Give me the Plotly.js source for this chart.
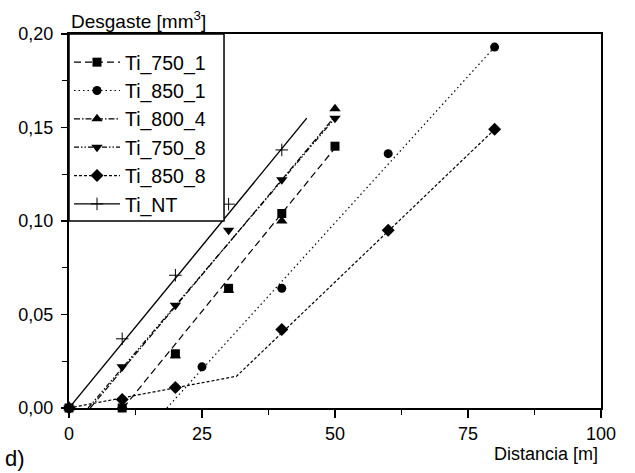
<!DOCTYPE html>
<html>
<head>
<meta charset="utf-8">
<script src="https://cdn.plot.ly/plotly-3.0.1.min.js"></script>
<style>html,body{margin:0;padding:0;background:#fff;}#chart{width:635px;height:473px;}</style>
</head>
<body>
<div id="chart"></div>
<script>
// ---- data ----
const seriesNames = ["Ti_750_1", "Ti_850_1", "Ti_800_4", "Ti_750_8", "Ti_850_8", "Ti_NT"];

const x_750_1 = [0, 10, 20, 30, 40, 50];
const y_750_1 = [0, 0.000, 0.029, 0.064, 0.104, 0.140];

const x_850_1 = [0, 25, 40, 60, 80];
const y_850_1 = [0, 0.022, 0.064, 0.136, 0.193];

const x_800_4 = [0, 10, 20, 30, 40, 50];
const y_800_4 = [0, 0.001, 0.028, 0.063, 0.100, 0.160];

const x_750_8 = [0, 10, 20, 30, 40, 50];
const y_750_8 = [0, 0.022, 0.055, 0.095, 0.122, 0.155];

const x_850_8 = [0, 10, 20, 40, 60, 80];
const y_850_8 = [0, 0.0045, 0.011, 0.042, 0.095, 0.149];

const x_NT = [0, 10, 20, 30, 40];
const y_NT = [0, 0.037, 0.071, 0.109, 0.138];

// fitted lines drawn in the reference
const fitx_750_1 = [10.2, 50];  const fity_750_1 = [0, 0.139];
const fitx_850_1 = [18.4, 80];  const fity_850_1 = [0, 0.193];
const fitx_800_4 = [4.0, 50];   const fity_800_4 = [0, 0.156];
const fitx_750_8 = [3.6, 50];   const fity_750_8 = [0, 0.155];
const fitx_850_8 = [0, 31.5, 80]; const fity_850_8 = [0, 0.017, 0.149];
const fitx_NT = [0, 44.7];      const fity_NT = [0, 0.155];

const xTicks = [0, 25, 50, 75, 100];
const yTicks = [0, 0.05, 0.10, 0.15, 0.20];
const yTickText = ["0,00", "0,05", "0,10", "0,15", "0,20"];

// ---- styles ----
const styles = [
  {sym: "square", dash: "7px,4px", size: 9},
  {sym: "circle", dash: "1.5px,3px", size: 9},
  {sym: "triangle-up", dash: "6px,2px,1.5px,2px", size: 10},
  {sym: "triangle-down", dash: "5px,2px,1.5px,2px,1.5px,2px", size: 10},
  {sym: "diamond", dash: "3px,2px", size: 10},
  {sym: "cross-thin", dash: "solid", size: 9}
];
const pts = [[x_750_1,y_750_1],[x_850_1,y_850_1],[x_800_4,y_800_4],[x_750_8,y_750_8],[x_850_8,y_850_8],[x_NT,y_NT]];
const fits = [[fitx_750_1,fity_750_1],[fitx_850_1,fity_850_1],[fitx_800_4,fity_800_4],[fitx_750_8,fity_750_8],[fitx_850_8,fity_850_8],[fitx_NT,fity_NT]];

function mk(i) {
  return {symbol: styles[i].sym, size: styles[i].size, color: "#000",
          line: {color: "#000", width: styles[i].sym === "cross-thin" ? 1 : 0}};
}

const traces = [];
// legend entries
seriesNames.forEach((n, i) => {
  traces.push({
    x: [null], y: [null], name: n, type: "scatter", mode: "lines+markers",
    line: {color: "#000", width: 1.2, dash: styles[i].dash},
    marker: mk(i), showlegend: true
  });
});
// fit lines
fits.forEach((f, i) => {
  traces.push({
    x: f[0], y: f[1], type: "scatter", mode: "lines", showlegend: false, hoverinfo: "skip",
    line: {color: "#000", width: i === 5 ? 1.4 : 1.2, dash: styles[i].dash}, cliponaxis: false
  });
});
// data markers
pts.forEach((p, i) => {
  traces.push({
    x: p[0], y: p[1], type: "scatter", mode: "markers", showlegend: false, cliponaxis: false,
    marker: mk(i)
  });
});

const layout = {
  width: 635, height: 473,
  margin: {l: 69, r: 34, t: 34, b: 65},
  paper_bgcolor: "#fff", plot_bgcolor: "#fff",
  font: {family: "Liberation Sans, Arial, sans-serif", color: "#000", size: 17},
  showlegend: true,
  legend: {
    x: 0, y: 0.976, xanchor: "left", yanchor: "top",
    bgcolor: "rgba(0,0,0,0)", borderwidth: 0,
    font: {size: 19.5, color: "#000"},
    itemwidth: 46, tracegroupgap: 0
  },
  shapes: [
    {type: "rect", xref: "paper", yref: "paper", x0: 0, x1: 0.2914, y0: 0.5, y1: 1,
     fillcolor: "#fff", line: {color: "#000", width: 1.5}, layer: "above"}
  ],
  xaxis: {
    range: [0, 100], tickvals: xTicks, ticktext: xTicks.map(String),
    ticks: "outside", ticklen: 8, tickwidth: 1.2, tickcolor: "#000",
    showline: true, linecolor: "#000", linewidth: 2, mirror: true,
    showgrid: false, zeroline: false,
    tickfont: {size: 18},
    minor: {tickvals: [12.5, 37.5, 62.5, 87.5], ticks: "outside", ticklen: 5, tickwidth: 1.2, tickcolor: "#000", showgrid: false}
  },
  yaxis: {
    range: [0, 0.2], tickvals: yTicks, ticktext: yTickText,
    ticks: "outside", ticklen: 6, tickwidth: 1.2, tickcolor: "#000",
    showline: true, linecolor: "#000", linewidth: 2, mirror: true,
    showgrid: false, zeroline: false,
    tickfont: {size: 18}, ticklabelstandoff: 4,
    minor: {tickvals: [0.025, 0.075, 0.125, 0.175], ticks: "outside", ticklen: 5, tickwidth: 1.2, tickcolor: "#000", showgrid: false}
  },
  annotations: [
    {text: "Desgaste [mm<sup>3</sup>]", xref: "paper", yref: "paper", x: 0, y: 1, xanchor: "left", yanchor: "bottom", xshift: 0, yshift: 0, showarrow: false, font: {size: 19}},
    {text: "Distancia [m]", xref: "paper", yref: "paper", x: 0.897, y: 0, xanchor: "center", yanchor: "top", yshift: -34, showarrow: false, font: {size: 18}},
    {text: "d)", xref: "paper", yref: "paper", x: 0, y: 0, xanchor: "left", yanchor: "top", xshift: -66, yshift: -36, showarrow: false, font: {size: 22}}
  ]
};

Plotly.newPlot("chart", traces, layout, {staticPlot: true, displayModeBar: false});
</script>
</body>
</html>
